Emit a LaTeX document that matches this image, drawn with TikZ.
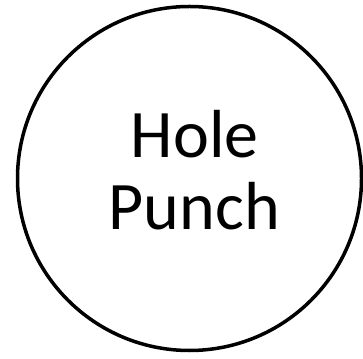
\documentclass[tikz,border=0pt]{standalone}
\usepackage{fontspec}
\setmainfont{Carlito}
\begin{document}
\begin{tikzpicture}[x=1pt,y=1pt,
  ring/.style={circle,draw=black,line width=3.5pt,minimum size=344pt,inner sep=0pt},
  label/.style={anchor=base,inner sep=0pt,font=\fontsize{68}{73}\selectfont}]
\useasboundingbox (0,0) rectangle (363,358);
\node[ring] (c) at (189.5,179.5) {};
\node[label] (hole) at (194.7,200.7) {Hole};
\node[label] (punch) at (194.3,128) {Punch};
\end{tikzpicture}
\end{document}
